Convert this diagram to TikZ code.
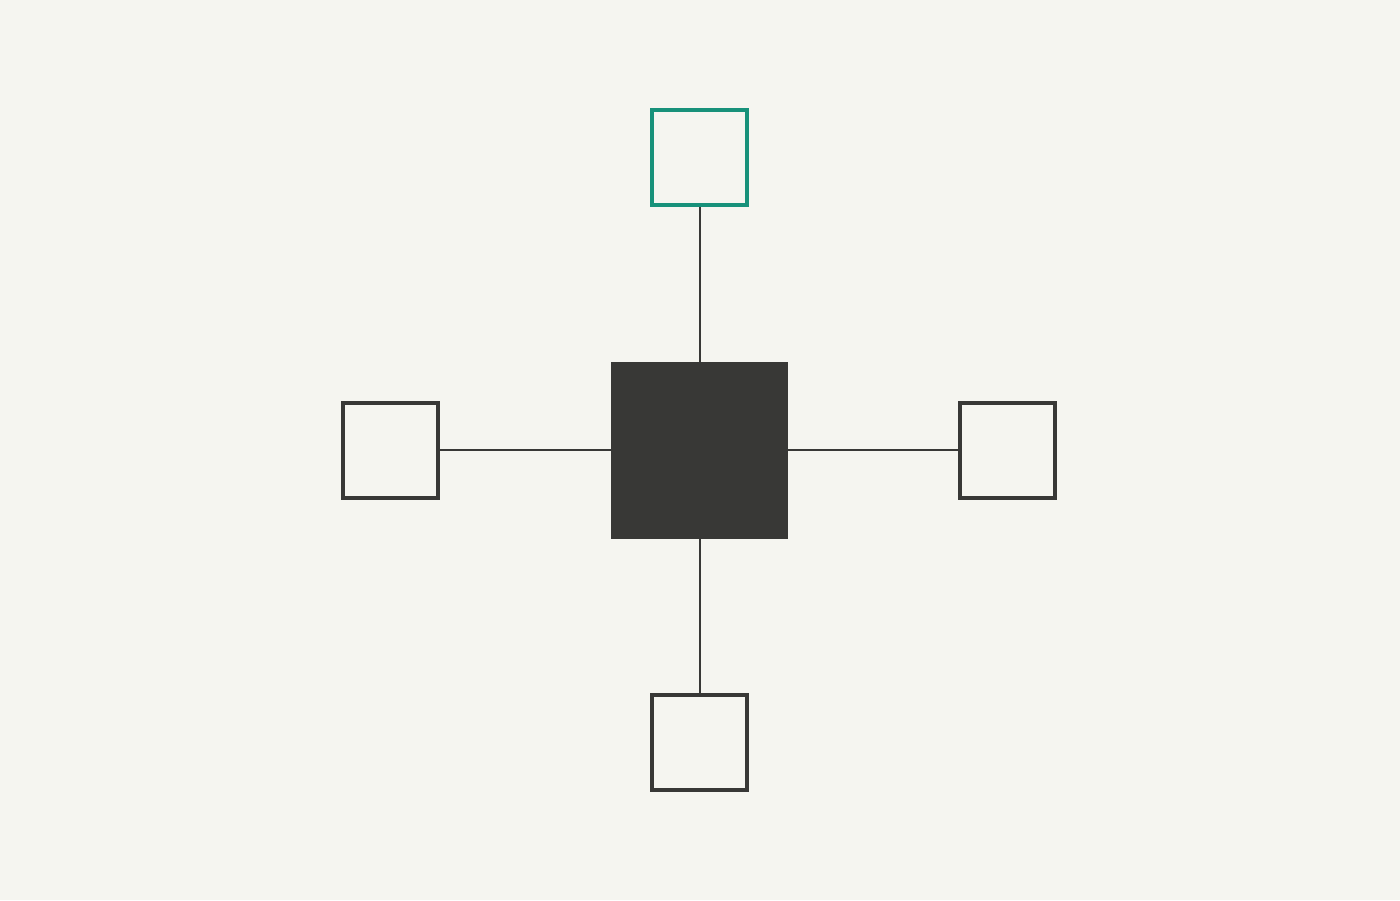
\documentclass[tikz,border=0pt]{standalone}
\usepackage{tikz}
\usetikzlibrary{positioning}

\definecolor{paper}{HTML}{F5F5F0}
\definecolor{ink}{HTML}{383836}
\definecolor{accent}{HTML}{17917A}

\tikzset{
    hubbox/.style={rectangle, fill=ink, minimum size=1.77cm, outer sep=0pt, inner sep=0pt},
    leafbox/.style={rectangle, draw=ink, fill=paper, line width=0.04cm, minimum size=0.95cm, inner sep=0pt},
    spoke/.style={draw=ink, line width=0.02cm}
}

\begin{document}
\begin{tikzpicture}
        % Background
        \fill[paper] (0, 0) rectangle (14, 9);
        \useasboundingbox (0, 0) rectangle (14, 9);

        % Hub
        \node[hubbox] (hub) at (6.995, 4.5) {};

        % Leaves
        \node[leafbox, draw=accent, above=1.54cm of hub] (top) {};
        \node[leafbox, below=1.54cm of hub] (bottom) {};
        \node[leafbox, left=1.71cm of hub] (left) {};
        \node[leafbox, right=1.70cm of hub] (right) {};

        % Spokes
        \draw[spoke] (hub) -- (top);
        \draw[spoke] (hub) -- (bottom);
        \draw[spoke] (hub) -- (left);
        \draw[spoke] (hub) -- (right);
    \end{tikzpicture}
\end{document}
